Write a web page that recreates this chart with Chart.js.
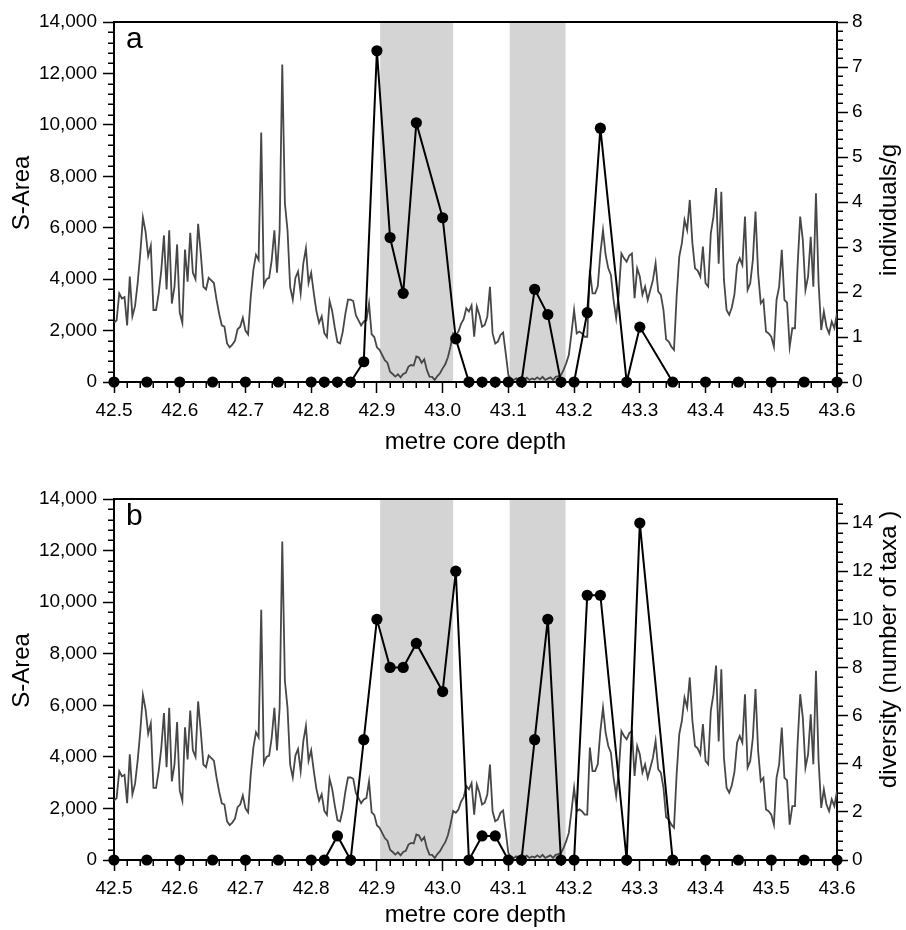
<!DOCTYPE html>
<html>
<head>
<meta charset="utf-8">
<script src="https://cdn.jsdelivr.net/npm/chart.js@4.4.1/dist/chart.umd.min.js"></script>
<style>
  html, body { margin: 0; padding: 0; background: #fff; }
  .panel { position: absolute; left: 0; width: 906px; }
  #panelA { top: 0; height: 477px; }
  #panelB { top: 477px; height: 453px; }
</style>
</head>
<body>
<div class="panel" id="panelA"><canvas></canvas></div>
<div class="panel" id="panelB"><canvas></canvas></div>
<script>
const depthMin = 42.5;
const depthMax = 43.6;
const depthTicks = [42.5, 42.6, 42.7, 42.8, 42.9, 43.0, 43.1, 43.2, 43.3, 43.4, 43.5, 43.6];
const sAreaTicks = [0, 2000, 4000, 6000, 8000, 10000, 12000, 14000];
const individualsTicks = [0, 1, 2, 3, 4, 5, 6, 7, 8];
const diversityTicks = [0, 2, 4, 6, 8, 10, 12, 14];

// grey bands (metre core depth)
const shadedBands = [[42.905, 43.016], [43.102, 43.187]];

// S-Area, sampled every 4 mm from 42.5 m
const sAreaStep = 0.004;
const sArea = [
  2300, 2400, 3450, 3250, 3300, 2200, 4100, 2550, 2950, 3850,
  5000, 6400, 5850, 4900, 5300, 2800, 2800, 3450, 4350, 5700,
  3600, 5900, 3050, 3700, 5350, 2700, 2300, 5150, 3900, 5800,
  4250, 4000, 6150, 5000, 3700, 3600, 4050, 3950, 3850, 3200,
  2650, 2200, 2150, 1500, 1350, 1450, 1600, 2050, 2150, 2500,
  2000, 1850, 3300, 4350, 4950, 4750, 9700, 3750, 4000, 4050,
  4750, 5900, 4250, 5900, 12350, 6950, 5900, 3700, 3200, 4050,
  4300, 3450, 4600, 5200, 3850, 4250, 3450, 2750, 2300, 2550,
  1900, 1750, 3150, 2750, 2100, 1550, 1500, 1950, 2650, 3200,
  3200, 3150, 2600, 2400, 2200, 2350, 2400, 3050, 1850, 1750,
  1350, 1250, 1050, 850, 750, 400, 310, 210, 300, 180,
  310, 360, 600, 660, 640, 990, 950, 750, 880, 470,
  210, 200, 80, 230, 340, 530, 690, 960, 1380, 1900,
  1830, 1960, 2260, 2440, 2870, 2740, 2980, 1760, 2930, 2610,
  2150, 2220, 2540, 3700, 1890, 1500, 1570, 1830, 1920, 1110,
  270, 100, 80, 140, 80, 200, 100, 170, 80, 140,
  100, 180, 100, 200, 80, 130, 180, 80, 200, 230,
  270, 470, 730, 1050, 1890, 2800, 1890, 1960, 1890, 1760,
  1760, 4360, 3450, 3450, 3710, 5000, 5900, 4940, 4420, 4160,
  3190, 2480, 3450, 5000, 4810, 4680, 4920, 5000, 3260, 4420,
  4100, 3390, 3710, 3190, 3580, 3970, 4620, 3520, 3390, 2800,
  1660, 1570, 1370, 1250, 3320, 4880, 5400, 6300, 5910, 7080,
  5400, 4420, 4330, 4100, 5270, 3840, 3710, 5780, 6430, 7540,
  4600, 7400, 3970, 2800, 2610, 2900, 3420, 4550, 4810, 4550,
  6430, 3580, 3840, 4750, 6630, 4230, 3060, 3190, 1960, 1890,
  1760, 1370, 3190, 3710, 5140, 3190, 3090, 1370, 2090, 2090,
  4490, 6430, 5520, 3580, 4100, 5650, 3710, 7340, 3840, 2020,
  2740, 2150, 1890, 2350, 2090, 2670
];

// microfossil samples
const sampleDepth = [42.5, 42.55, 42.6, 42.65, 42.7, 42.75, 42.8, 42.82, 42.84, 42.86,
  42.88, 42.9, 42.92, 42.94, 42.96, 43.0, 43.02, 43.04, 43.06, 43.08,
  43.1, 43.12, 43.14, 43.16, 43.18, 43.2, 43.22, 43.24, 43.28, 43.3,
  43.35, 43.4, 43.45, 43.5, 43.55, 43.6];
const individuals = [0, 0, 0, 0, 0, 0, 0, 0, 0, 0,
  0.45, 7.36, 3.21, 1.97, 5.76, 3.65, 0.96, 0, 0, 0,
  0, 0, 2.06, 1.5, 0, 0, 1.54, 5.64, 0, 1.22,
  0, 0, 0, 0, 0, 0];
const diversity = [0, 0, 0, 0, 0, 0, 0, 0, 1, 0,
  5, 10, 8, 8, 9, 7, 12, 0, 1, 1,
  0, 0, 5, 10, 0, 0, 11, 11, 0, 14,
  0, 0, 0, 0, 0, 0];

const qs = (selector) => document.querySelector(selector);

const fontFamily = '"Liberation Sans", Arial, Helvetica, sans-serif';
Chart.defaults.font.family = fontFamily;
Chart.defaults.color = '#000';

const tickFont = { size: 19 };
const titleFont = { size: 24 };

const bandsPlugin = {
  id: 'bands',
  beforeDraw: (chart) => {
    const { ctx, chartArea, scales } = chart;
    ctx.save();
    ctx.fillStyle = '#d4d4d4';
    shadedBands.forEach(([from, to]) => {
      const x1 = scales.x.getPixelForValue(from);
      const x2 = scales.x.getPixelForValue(to);
      ctx.fillRect(x1, chartArea.top, x2 - x1, chartArea.bottom - chartArea.top);
    });
    ctx.restore();
  }
};

const drawUpText = (ctx, text, x, y) => {
  ctx.save();
  ctx.translate(x, y);
  ctx.rotate(-Math.PI / 2);
  ctx.fillText(text, 0, 0);
  ctx.restore();
};

const decorPlugin = {
  id: 'decor',
  afterDraw: (chart, args, opts) => {
    const { ctx, chartArea: area } = chart;
    const middle = (area.top + area.bottom) / 2;
    ctx.save();

    // top frame line
    ctx.strokeStyle = '#000';
    ctx.lineWidth = 2;
    ctx.beginPath();
    ctx.moveTo(area.left - 1, area.top);
    ctx.lineTo(area.right + 1, area.top);
    ctx.stroke();

    // minor ticks
    ctx.lineWidth = 1.5;
    ctx.beginPath();
    Object.entries(opts.minor).forEach(([id, step]) => {
      const scale = chart.scales[id];
      const count = Math.round((scale.max - scale.min) / step);
      const majors = scale.ticks.map((t) => scale.getPixelForValue(t.value));
      for (let k = 1; k < count; k++) {
        const p = Math.round(scale.getPixelForValue(scale.min + k * step)) + 0.25;
        if (majors.some((m) => Math.abs(m - p) < 1)) continue;
        if (id === 'x') {
          ctx.moveTo(p, area.bottom);
          ctx.lineTo(p, area.bottom + opts.minorLength);
        } else if (scale.position === 'left') {
          ctx.moveTo(area.left, p);
          ctx.lineTo(area.left - opts.minorLength, p);
        } else {
          ctx.moveTo(area.right, p);
          ctx.lineTo(area.right + opts.minorLength, p);
        }
      }
    });
    ctx.stroke();

    // panel letter
    ctx.fillStyle = '#000';
    ctx.font = `30px ${fontFamily}`;
    ctx.textAlign = 'left';
    ctx.textBaseline = 'alphabetic';
    ctx.fillText(opts.letter, area.left + 12, area.top + 26);

    // axis titles, reading upwards
    ctx.font = `24px ${fontFamily}`;
    ctx.textAlign = 'center';
    ctx.textBaseline = 'middle';
    drawUpText(ctx, 'S-Area', 22, middle - 9);
    drawUpText(ctx, opts.rightTitle, 889, middle + opts.rightTitleShift);
    ctx.restore();
  }
};

const makePanel = (selector, cfg) => {
  const points = cfg.values.map((v, i) => ({ x: sampleDepth[i], y: v }));
  const sAreaPoints = sArea.map((v, i) => ({ x: +(depthMin + i * sAreaStep).toFixed(3), y: v }));

  return new Chart(qs(`${selector} canvas`), {
    type: 'line',
    data: {
      datasets: [
        {
          data: points,
          yAxisID: 'y2',
          borderColor: '#000',
          borderWidth: 2,
          pointRadius: 5.6,
          pointBackgroundColor: '#000',
          pointBorderWidth: 0,
          tension: 0,
          clip: false
        },
        {
          data: sAreaPoints,
          yAxisID: 'y',
          borderColor: '#474747',
          borderWidth: 1.8,
          pointRadius: 0,
          tension: 0
        }
      ]
    },
    options: {
      responsive: true,
      maintainAspectRatio: false,
      animation: false,
      events: [],
      layout: { padding: { top: 22, left: 0, right: 0, bottom: 0 } },
      plugins: {
        legend: { display: false },
        tooltip: { enabled: false },
        decor: {
          letter: cfg.letter,
          rightTitle: cfg.rightTitle,
          rightTitleShift: cfg.rightTitleShift,
          minorLength: 6,
          minor: { x: 0.02, y: 400, y2: cfg.rightMinor }
        }
      },
      scales: {
        x: {
          type: 'linear',
          position: 'bottom',
          min: depthMin,
          max: depthMax,
          afterBuildTicks: (s) => { s.ticks = depthTicks.map((v) => ({ value: v })); },
          afterFit: (s) => { s.height = cfg.xHeight; },
          ticks: { font: tickFont, padding: 6, maxRotation: 0, autoSkip: false, callback: (v) => v.toFixed(1) },
          grid: { drawOnChartArea: false, tickLength: 11, tickWidth: 1.5, tickColor: '#000' },
          border: { display: true, color: '#000', width: 2 },
          title: { display: true, text: 'metre core depth', font: titleFont, padding: { top: 0, bottom: cfg.xTitlePad } }
        },
        y: {
          position: 'left',
          min: 0,
          max: 14000,
          afterBuildTicks: (s) => { s.ticks = sAreaTicks.map((v) => ({ value: v })); },
          afterFit: (s) => { s.width = 114; },
          ticks: { font: tickFont, padding: 6, callback: (v) => v.toLocaleString('en-US') },
          grid: { drawOnChartArea: false, tickLength: 11, tickWidth: 1.5, tickColor: '#000' },
          border: { display: true, color: '#000', width: 2 }
        },
        y2: {
          position: 'right',
          min: 0,
          max: cfg.rightMax,
          afterBuildTicks: (s) => { s.ticks = cfg.rightTicks.map((v) => ({ value: v })); },
          afterFit: (s) => { s.width = 69; },
          ticks: { font: tickFont, padding: 4 },
          grid: { drawOnChartArea: false, tickLength: 11, tickWidth: 1.5, tickColor: '#000' },
          border: { display: true, color: '#000', width: 2 }
        }
      }
    },
    plugins: [bandsPlugin, decorPlugin]
  });
};

makePanel('#panelA', {
  letter: 'a',
  values: individuals,
  rightMax: 8,
  rightTicks: individualsTicks,
  rightMinor: 0.2,
  rightTitle: 'individuals/g',
  rightTitleShift: 8,
  xHeight: 95,
  xTitlePad: 20
});

makePanel('#panelB', {
  letter: 'b',
  values: diversity,
  rightMax: 15,
  rightTicks: diversityTicks,
  rightMinor: 0.4,
  rightTitle: 'diversity (number of taxa )',
  rightTitleShift: -30,
  xHeight: 70,
  xTitlePad: 0
});
</script>
</body>
</html>
